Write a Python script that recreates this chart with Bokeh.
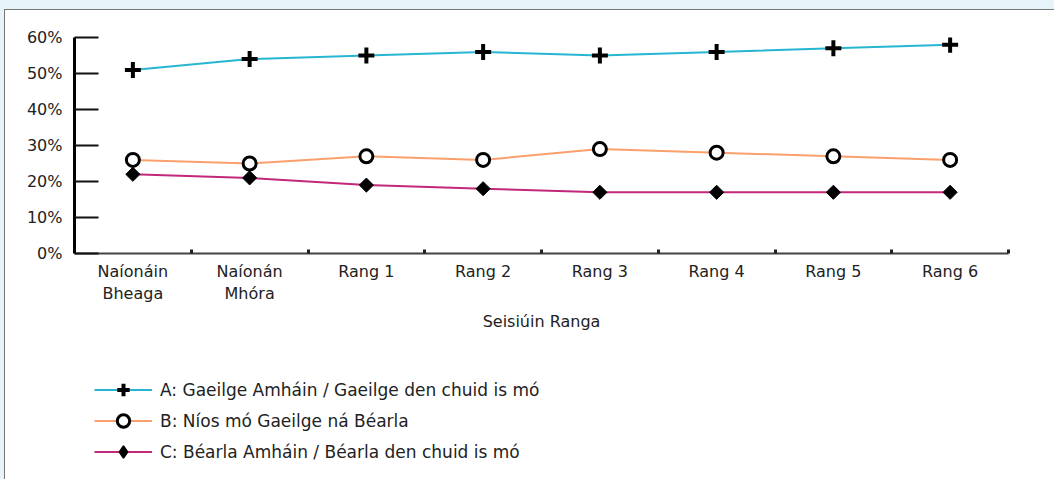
from bokeh.plotting import figure
from bokeh.layouts import column
from bokeh.models import Range1d, FixedTicker, Legend, LegendItem
from bokeh.embed import file_html
from bokeh.resources import INLINE

categories = ["Naíonáin\nBheaga", "Naíonán\nMhóra", "Rang 1", "Rang 2",
              "Rang 3", "Rang 4", "Rang 5", "Rang 6"]
series_a = [51, 54, 55, 56, 55, 56, 57, 58]
series_b = [26, 25, 27, 26, 29, 28, 27, 26]
series_c = [22, 21, 19, 18, 17, 17, 17, 17]
y_ticks = [0, 10, 20, 30, 40, 50, 60]
y_tick_labels = ["0%", "10%", "20%", "30%", "40%", "50%", "60%"]
legend_labels = ["A: Gaeilge Amháin / Gaeilge den chuid is mó",
                 "B: Níos mó Gaeilge ná Béarla",
                 "C: Béarla Amháin / Béarla den chuid is mó"]
x_title = "Seisiúin Ranga"

FONT = "DejaVu Sans"
TXT = "#222222"
colors = ["#27b6d2", "#f9a06c", "#c2287a"]

n = len(categories)
xs = [i + 0.5 for i in range(n)]

p = figure(frame_width=934, frame_height=216, output_backend="svg", toolbar_location=None,
           x_range=Range1d(0, n), y_range=Range1d(y_ticks[0], y_ticks[-1]),
           min_border_left=69, min_border_right=46, min_border_top=27,
           min_border_bottom=90)
p.background_fill_color = "white"
p.border_fill_color = "white"
p.outline_line_color = None
p.xgrid.visible = False
p.ygrid.visible = False

# x axis
xa = p.xaxis[0]
xa.ticker = FixedTicker(ticks=xs, minor_ticks=list(range(1, n + 1)))
xa.major_label_overrides = {x: c for x, c in zip(xs, categories)}
xa.major_tick_in = 0
xa.major_tick_out = 0
xa.minor_tick_in = 4
xa.minor_tick_out = 0
xa.minor_tick_line_width = 3
xa.minor_tick_line_color = "#222222"
xa.axis_line_color = "#444444"
xa.axis_line_width = 2
xa.major_label_text_font = FONT
xa.major_label_text_font_size = "16px"
xa.major_label_text_color = TXT
xa.major_label_standoff = 8
xa.axis_label = x_title
xa.axis_label_text_font = FONT
xa.axis_label_text_font_size = "16px"
xa.axis_label_text_font_style = "normal"
xa.axis_label_text_color = TXT
xa.axis_label_standoff = 6

# y axis
ya = p.yaxis[0]
ya.ticker = FixedTicker(ticks=y_ticks)
ya.major_label_overrides = {t: l for t, l in zip(y_ticks, y_tick_labels)}
ya.major_tick_in = 24
ya.major_tick_out = 0
ya.major_tick_line_width = 2
ya.major_tick_line_color = "#111111"
ya.minor_tick_line_color = None
ya.axis_line_color = "#000000"
ya.axis_line_width = 3
ya.major_label_text_font = FONT
ya.major_label_text_font_size = "16px"
ya.major_label_text_color = TXT
ya.major_label_standoff = 12

series = [series_a, series_b, series_c]
marker_kw = [dict(marker="cross", size=16, line_color="black", line_width=4),
             dict(marker="circle", size=13, fill_color="white", line_color="black", line_width=3),
             dict(marker="square", angle=0.785398, size=10, fill_color="black", line_color="black")]
legend_marker_kw = [dict(marker="cross", size=16, line_color="black", line_width=4),
                    dict(marker="circle", size=13, fill_color="white", line_color="black", line_width=3),
                    dict(marker="diamond", size=16, fill_color="black", line_color="black", line_width=1.5)]

for s, c, mk in zip(series, colors, marker_kw):
    p.line(xs, s, line_color=c, line_width=2)
    p.scatter(xs, s, **mk)

# legend panel: a second figure whose ranges keep its copies of the series out of view
q = figure(width=1049, height=469 - (27 + 216 + 90), output_backend="svg",
           toolbar_location=None, x_range=Range1d(0, 1), y_range=Range1d(0, 1),
           min_border=0, x_axis_location=None, y_axis_location=None)
q.outline_line_color = None
q.background_fill_color = "white"
q.border_fill_color = "white"
q.xgrid.visible = False
q.ygrid.visible = False

items = []
for s, c, mk, lab in zip(series, colors, legend_marker_kw, legend_labels):
    lr = q.line(xs, s, line_color=c, line_width=2)
    sr = q.scatter(xs, s, **mk)
    items.append(LegendItem(label=lab, renderers=[lr, sr]))

legend = Legend(items=items, location=(20, 12), orientation="vertical")
legend.glyph_width = 58
legend.glyph_height = 31
legend.label_height = 31
legend.spacing = 0
legend.padding = 0
legend.margin = 0
legend.label_standoff = 8
legend.label_text_font = FONT
legend.label_text_font_size = "17px"
legend.label_text_color = TXT
legend.border_line_color = None
legend.background_fill_alpha = 0
q.add_layout(legend, "center")

layout = column(p, q, spacing=0)
layout.styles = {"border-top": "1px solid #777777", "border-left": "1px solid #777777",
                 "background": "white"}

html = file_html(layout, INLINE)
css = ("<style>html,body{overflow:hidden;}"
       "body{background:#e6f3f8;padding:9px 0 0 4px !important;}</style>")
html = html.replace("</head>", css + "</head>", 1)
open("out.html", "w").write(html)
